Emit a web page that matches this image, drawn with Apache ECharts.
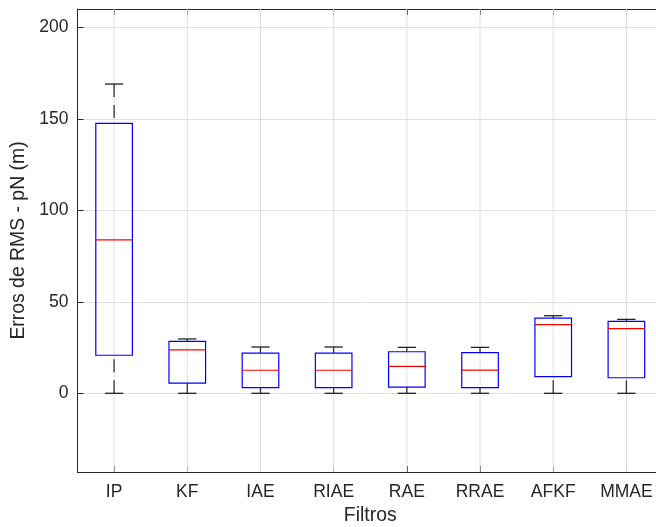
<!DOCTYPE html>
<html><head><meta charset="utf-8">
<script src="https://cdn.jsdelivr.net/npm/echarts@6/dist/echarts.min.js"></script>
<style>html,body{margin:0;padding:0;background:#fff;overflow:hidden}#c{width:656px;height:527px}</style>
</head><body><div id="c"></div>
<script>
const categories = ['IP', 'KF', 'IAE', 'RIAE', 'RAE', 'RRAE', 'AFKF', 'MMAE'];
const whiskerLow  = [0, 0, 0, 0, 0, 0, 0, 0];
const q1          = [20.8, 5.6, 3.1, 3.1, 3.4, 3.1, 9.1, 8.5];
const median      = [83.8, 23.7, 12.6, 12.6, 14.7, 12.7, 37.5, 35.3];
const q3          = [147.5, 28.4, 22.0, 22.0, 22.7, 22.2, 41.1, 39.3];
const whiskerHigh = [169.0, 29.7, 25.3, 25.3, 25.1, 25.1, 42.4, 40.4];
const yTicks = [0, 50, 100, 150, 200];

const FONT = "'Liberation Sans', Arial, sans-serif";
const TXT = '#262626';
const GRIDC = '#dfdfdf';

const data = categories.map((c, i) => [i, whiskerLow[i], q1[i], median[i], q3[i], whiskerHigh[i]]);

function gridItem(params, api) {
  const i = api.value(0);
  const x = api.coord([i, 0])[0];
  const cs = params.coordSys;
  return { type: 'line', shape: { x1: x, y1: cs.y, x2: x, y2: cs.y + cs.height }, style: { stroke: GRIDC, lineWidth: 1 } };
}

function renderItem(params, api) {
  const i = api.value(0);
  const bw = api.size([1, 0])[0];
  const x = api.coord([i, 0])[0];
  const y = v => api.coord([i, v])[1];
  const hb = bw * 0.25, hc = bw * 0.125;
  const yl = y(api.value(1)), y1 = y(api.value(2)), ym = y(api.value(3)), y3 = y(api.value(4)), yh = y(api.value(5));
  const wStyle = { stroke: '#333', lineWidth: 1.3, lineDash: [13, 8] };
  const cStyle = { stroke: '#222', lineWidth: 1.3 };
  return {
    type: 'group',
    children: [
      { type: 'line', shape: { x1: x, y1: yh, x2: x, y2: y3 }, style: wStyle },
      { type: 'line', shape: { x1: x, y1: yl, x2: x, y2: y1 }, style: wStyle },
      { type: 'line', shape: { x1: x - hc, y1: yh, x2: x + hc, y2: yh }, style: cStyle },
      { type: 'line', shape: { x1: x - hc, y1: yl, x2: x + hc, y2: yl }, style: cStyle },
      { type: 'rect', shape: { x: x - hb, y: y3, width: 2 * hb, height: y1 - y3 }, style: { fill: 'none', stroke: '#0000ff', lineWidth: 1.2 } },
      { type: 'line', shape: { x1: x - hb, y1: ym, x2: x + hb, y2: ym }, style: { stroke: '#ff0000', lineWidth: 1.2 } }
    ]
  };
}

const chart = echarts.init(document.getElementById('c'), null, { renderer: 'canvas' });
chart.setOption({
  animation: false,
  backgroundColor: '#fff',
  grid: { show: false, borderWidth: 0, left: 77.5, top: 9, width: 585.5, height: 463, containLabel: false, outerBoundsMode: 'none' },
  xAxis: [{
    type: 'category',
    data: categories,
    boundaryGap: true,
    position: 'bottom',
    name: 'Filtros',
    nameLocation: 'middle',
    nameGap: 33,
    nameTextStyle: { fontFamily: FONT, fontSize: 19.4, color: TXT },
    axisLine: { show: true, onZero: false, lineStyle: { color: TXT, width: 1 } },
    axisTick: { show: true, inside: true, length: 6, alignWithLabel: true, lineStyle: { color: TXT } },
    axisLabel: { fontFamily: FONT, fontSize: 17.5, color: TXT, margin: 11 },
    splitLine: { show: false }
  }, {
    type: 'category',
    data: categories,
    boundaryGap: true,
    position: 'top',
    axisLine: { show: true, onZero: false, lineStyle: { color: TXT, width: 1 } },
    axisTick: { show: true, inside: true, length: 6, alignWithLabel: true, lineStyle: { color: TXT } },
    axisLabel: { show: false },
    splitLine: { show: false }
  }],
  yAxis: {
    type: 'value',
    min: -43,
    max: 210,
    splitNumber: 5,
    name: 'Erros de RMS - pN (m)',
    nameLocation: 'middle',
    nameGap: 40,
    nameTextStyle: { fontFamily: FONT, fontSize: 19.4, color: TXT },
    axisLine: { show: true, onZero: false, lineStyle: { color: TXT, width: 1 } },
    axisTick: { show: true, inside: true, length: 6, lineStyle: { color: TXT } },
    axisLabel: {
      fontFamily: FONT, fontSize: 17.5, color: TXT, margin: 9,
      showMinLabel: false, showMaxLabel: false,
      formatter: v => (yTicks.indexOf(v) >= 0 ? String(v) : '')
    },
    splitLine: { show: true, lineStyle: { color: GRIDC, width: 1 } }
  },
  series: [{
    type: 'custom',
    renderItem: gridItem,
    encode: { x: 0, y: 1 },
    data: data,
    silent: true,
    z: 1
  }, {
    type: 'custom',
    renderItem: renderItem,
    encode: { x: 0, y: [1, 2, 3, 4, 5] },
    data: data,
    z: 5
  }]
});
</script></body></html>
